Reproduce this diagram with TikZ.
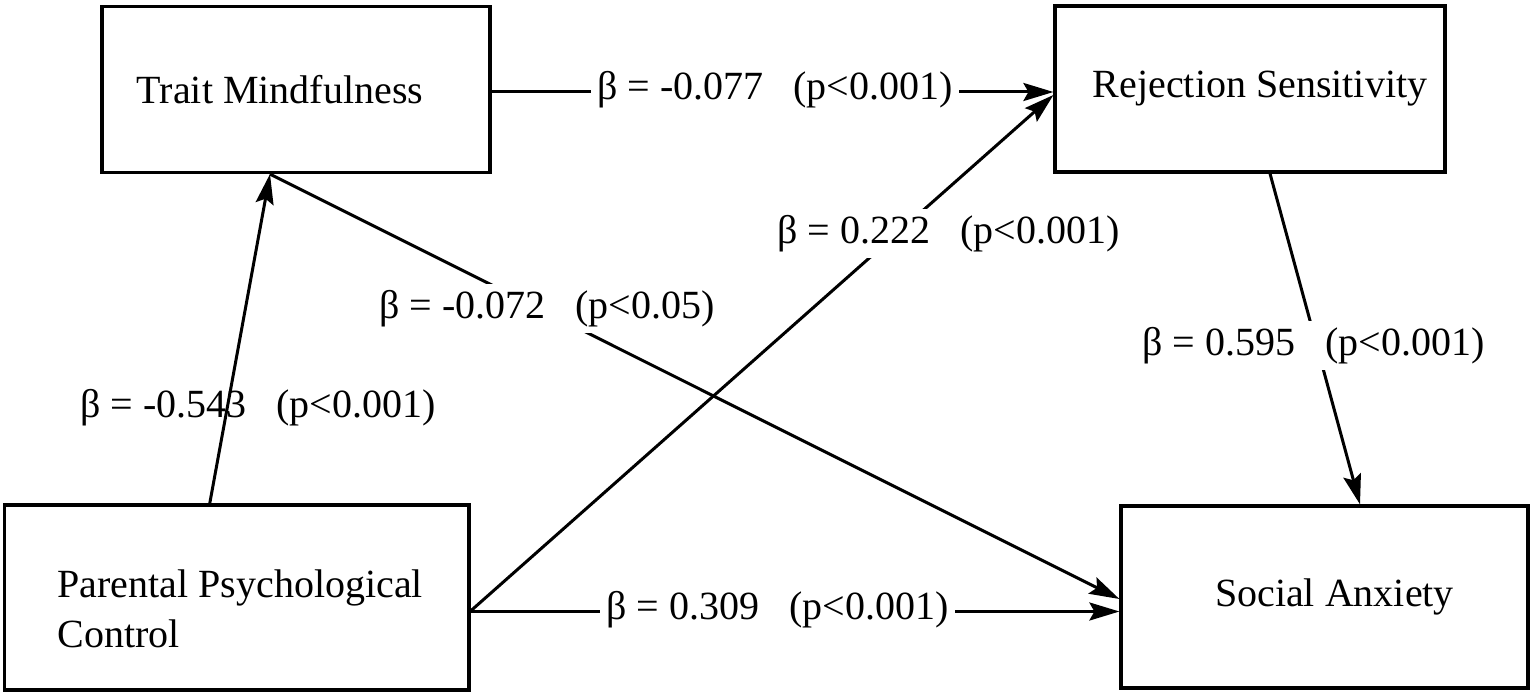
\documentclass[tikz,border=0pt]{standalone}
\usepackage{fontspec}
\setmainfont{Liberation Serif}
\usetikzlibrary{arrows.meta}
\begin{document}
\begin{tikzpicture}[x=0.5pt,y=-0.5pt,
  box/.style={draw=black, line width=1.6pt, rectangle, inner sep=0pt},
  arr/.style={line width=1.5pt, -{Stealth[length=15pt,width=9pt,inset=2.5pt]}},
  lbl/.style={fill=white, inner sep=3pt, font=\fontsize{20}{24}\selectfont},
  lblnf/.style={inner sep=3pt, font=\fontsize{20}{24}\selectfont},
  txt/.style={font=\fontsize{20}{25}\selectfont}]
\useasboundingbox (0,0) rectangle (1535,695);
\fill[white] (0,0) rectangle (1535,695);

% boxes
\node[box, txt, minimum width=194pt, minimum height=83pt] (tm) at (296,89.5) {Trait Mindfulness\rule{16pt}{0pt}};
\node[box, txt, minimum width=195pt, minimum height=83pt] (rs) at (1250,89) {\hspace{10pt}Rejection Sensitivity};
\node[box, txt, minimum width=203.5pt, minimum height=91pt] (sa) at (1324.5,597) {\hspace{10pt}Social Anxiety};
\node[box, minimum width=232.25pt, minimum height=92.5pt] (ppc) at (236.75,597.5) {};
\node[txt, anchor=base west, align=left, inner sep=0pt] (ppctxt) at (57,647) {Parental Psychological\\Control};

% connectors
\draw[arr] ([xshift=-13.5pt]ppc.north) -- ([xshift=-13pt]tm.south);
\draw[arr] ([yshift=-1.25pt]tm.east) -- ([yshift=-1.5pt]rs.west);
\draw[arr] ([xshift=-13pt]tm.south) -- ([yshift=-1pt]sa.west);
\draw[arr] ([yshift=-6.75pt]ppc.east) -- ([yshift=-3pt]rs.west);
\draw[arr] ([yshift=-7pt]ppc.east) -- ([yshift=-7.25pt]sa.west);
\draw[arr] ([xshift=10pt]rs.south) -- ([xshift=17.75pt]sa.north);

% labels
\node[lbl, anchor=base west] (l077) at (591,100) {β = -0.077\hspace{0.75em}(p<0.001)};
\node[lbl, anchor=base west] (l309) at (600,619) {β = 0.309\hspace{0.75em}(p<0.001)};
\node[lbl, anchor=base west] (l072) at (373,318) {β = -0.072\hspace{0.75em}(p<0.05)};
\node[lbl, anchor=base west] (l222) at (771,243) {β = 0.222\hspace{0.75em}(p<0.001)};
\node[lblnf, anchor=base west] (l543) at (74,417) {β = -0.543\hspace{0.75em}(p<0.001)};
\node[lbl, anchor=base west] (l595) at (1136,355) {β = 0.595\hspace{0.75em}(p<0.001)};
\end{tikzpicture}
\end{document}
